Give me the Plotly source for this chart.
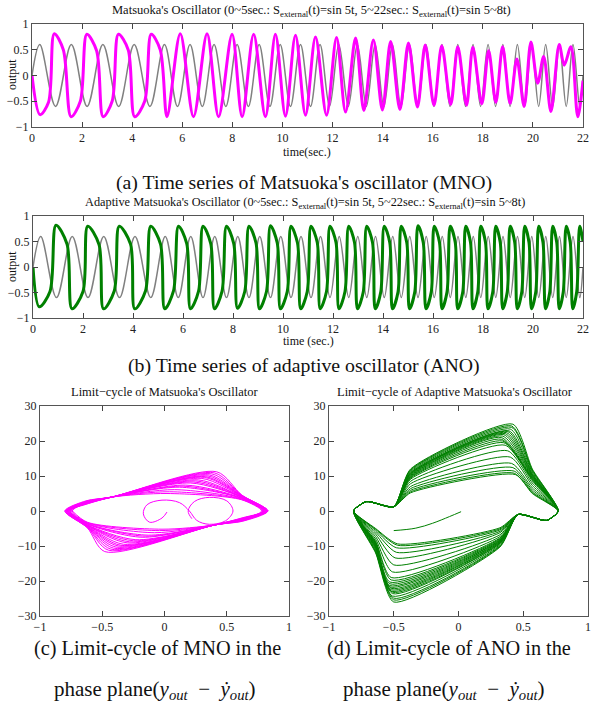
import plotly.graph_objects as go

# ---------------- time series data ----------------
# reference input S_external: extrema times and values
grey_t = [0.00, 0.31, 0.94, 1.57, 2.20, 2.83, 3.46, 4.08, 4.71,
          5.29, 5.81, 6.31, 6.80, 7.27, 7.74, 8.19, 8.64, 9.07, 9.50,
          9.91, 10.32, 10.72, 11.12, 11.50, 11.88, 12.25, 12.63, 12.99, 13.35,
          13.70, 14.05, 14.39, 14.73, 15.07, 15.40, 15.73, 16.05, 16.37, 16.69,
          17.00, 17.31, 17.61, 17.91, 18.21, 18.51, 18.80, 19.09, 19.38, 19.67,
          19.95, 20.23, 20.51, 20.79, 21.06, 21.33, 21.60, 21.87, 22.00]
grey_y = [0.0, 0.6, -0.6, 0.6, -0.6, 0.6, -0.6, 0.6, -0.6,
          0.6, -0.6, 0.6, -0.6, 0.6, -0.6, 0.6, -0.6, 0.6, -0.6,
          0.6, -0.6, 0.6, -0.6, 0.6, -0.6, 0.6, -0.6, 0.6, -0.6,
          0.6, -0.6, 0.6, -0.6, 0.6, -0.6, 0.6, -0.6, 0.6, -0.6,
          0.6, -0.6, 0.6, -0.6, 0.6, -0.6, 0.6, -0.6, 0.6, -0.6,
          0.6, -0.6, 0.6, -0.6, 0.6, -0.6, 0.6, -0.6, 0.0]

# Matsuoka's oscillator output (key points)
mno_t = [0.00, 0.32, 0.66, 0.89, 1.25, 1.56, 1.93, 2.19, 2.58, 2.84,
         3.20, 3.45, 3.84, 4.10, 4.50, 4.76, 5.12, 5.39,
         5.92, 6.45, 6.99, 7.45, 7.99, 8.39, 8.85, 9.32, 9.72, 10.12,
         10.52, 10.92, 11.32, 11.76, 12.16, 12.52, 12.92, 13.25, 13.63, 13.99,
         14.32, 14.69, 15.03, 15.39, 15.70, 16.05, 16.36, 16.72, 17.00, 17.35,
         17.60, 17.96, 18.23, 18.52, 18.79, 19.09, 19.36, 19.65, 19.92, 20.19,
         20.43, 20.72, 21.05, 21.25, 21.52, 21.79, 22.00]
mno_y = [0.00, -0.76, -0.52, 0.81, 0.50, -0.80, -0.50, 0.80, 0.48, -0.80,
         -0.50, 0.80, 0.50, -0.80, -0.50, 0.80, 0.50, -0.80,
         0.81, -0.80, 0.81, -0.80, 0.80, -0.80, 0.80, -0.80, 0.80, -0.79,
         0.78, -0.77, 0.75, -0.77, 0.74, -0.71, 0.73, -0.68, 0.69, -0.67,
         0.66, -0.66, 0.63, -0.61, 0.59, -0.58, 0.58, -0.56, 0.56, -0.58,
         0.55, -0.55, 0.48, -0.52, 0.56, -0.54, 0.32, -0.60, 0.65, -0.15,
         0.37, -0.70, 0.60, 0.20, 0.56, -0.80, -0.10]

# Adaptive Matsuoka's oscillator output (key points)
ano_t = [0.00, 0.25,
         0.68, 0.92, 1.36, 1.56, 2.00, 2.19, 2.64, 2.82, 3.25, 3.45, 3.90, 4.07,
         4.50, 4.71, 5.10, 5.27, 5.62, 5.82, 6.15, 6.30, 6.62, 6.80, 7.11, 7.26,
         7.56, 7.74, 8.03, 8.18, 8.47, 8.64, 8.92, 9.06, 9.34, 9.50, 9.77, 9.90,
         10.17, 10.32, 10.58, 10.71, 10.97, 11.12, 11.37, 11.49, 11.74, 11.88, 12.12, 12.24,
         12.48, 12.63, 12.86, 12.98, 13.21, 13.35, 13.58, 13.69, 13.91, 14.05, 14.27, 14.38,
         14.60, 14.73, 14.95, 15.06, 15.27, 15.40, 15.61, 15.72, 15.93, 16.05, 16.26, 16.36,
         16.56, 16.69, 16.89, 16.99, 17.19, 17.31, 17.50, 17.60, 17.79, 17.91, 18.10, 18.20,
         18.39, 18.51, 18.69, 18.79, 18.97, 19.09, 19.27, 19.37, 19.55, 19.67, 19.84, 19.94,
         20.11, 20.23, 20.40, 20.50, 20.67, 20.79, 20.95, 21.05, 21.21, 21.33, 21.49, 21.59,
         21.75, 21.87, 22.00]
ano_y = [0.00, -0.78,
         -0.48, 0.82, 0.45, -0.82, -0.48, 0.80, 0.44, -0.82, -0.47, 0.80, 0.45, -0.82,
         -0.47, 0.80, 0.45, -0.82, -0.47, 0.80, 0.46, -0.82, -0.48, 0.80, 0.46, -0.82,
         -0.48, 0.80, 0.46, -0.81, -0.48, 0.80, 0.47, -0.82, -0.48, 0.81, 0.47, -0.82,
         -0.48, 0.80, 0.47, -0.82, -0.48, 0.80, 0.48, -0.82, -0.48, 0.80, 0.48, -0.82,
         -0.48, 0.80, 0.48, -0.82, -0.49, 0.80, 0.48, -0.82, -0.49, 0.80, 0.48, -0.82,
         -0.49, 0.80, 0.48, -0.82, -0.49, 0.81, 0.48, -0.82, -0.49, 0.80, 0.48, -0.82,
         -0.49, 0.80, 0.48, -0.82, -0.49, 0.80, 0.48, -0.82, -0.49, 0.80, 0.48, -0.82,
         -0.49, 0.80, 0.48, -0.82, -0.49, 0.80, 0.48, -0.82, -0.49, 0.80, 0.48, -0.82,
         -0.49, 0.80, 0.48, -0.82, -0.49, 0.80, 0.48, -0.82, -0.49, 0.80, 0.48, -0.82,
         -0.48, 0.80, 0.50]

# ---------------- phase-plane data ----------------
# MNO limit cycle: per-loop corner values
mno_left_x = [-0.80, -0.80, -0.80, -0.79, -0.79, -0.79, -0.78, -0.78, -0.78,
              -0.78, -0.77, -0.77, -0.77, -0.76, -0.76, -0.76, -0.75, -0.74]
mno_ul1_y = [2.4, 2.9, 2.3, 2.2, 2.8, 2.7, 2.1, 2.0, 2.5, 2.6, 2.3, 1.9, 2.4, 2.2, 2.1, 2.5, 2.2, 2.3]
mno_top_x = [0.42, 0.40, 0.38, 0.36, 0.35, 0.33, 0.32, 0.30, 0.27,
             0.25, 0.23, 0.21, 0.17, 0.15, 0.12, 0.08, 0.04, 0.02]
mno_top_y = [11.2, 10.9, 10.6, 10.3, 10.0, 9.8, 9.6, 9.3, 8.9, 8.6, 8.3, 8.0, 7.4, 7.1, 6.8, 6.1, 5.5, 5.0]
mno_rside_y = [4.6, 4.5, 4.5, 4.4, 4.3, 4.3, 4.2, 4.1, 4.0, 4.0, 3.9, 3.9, 3.7, 3.6, 3.6, 3.4, 3.3, 3.2]
mno_right_x = [0.83, 0.83, 0.83, 0.82, 0.82, 0.82, 0.81, 0.81, 0.81,
               0.81, 0.80, 0.80, 0.80, 0.80, 0.80, 0.79, 0.79, 0.78]
mno_lr1_y = [-2.4, -2.9, -2.3, -2.2, -2.8, -2.7, -2.1, -2.0, -2.5,
             -2.6, -2.3, -1.9, -2.4, -2.2, -2.1, -2.5, -2.2, -2.3]
mno_bot_x = [-0.48, -0.45, -0.43, -0.41, -0.39, -0.37, -0.35, -0.33, -0.30,
             -0.28, -0.25, -0.23, -0.18, -0.15, -0.13, -0.08, -0.04, -0.02]
mno_bot_y = [-11.6, -11.2, -10.9, -10.6, -10.3, -10.0, -9.8, -9.5, -9.1,
             -8.8, -8.5, -8.2, -7.5, -7.2, -6.9, -6.2, -5.6, -5.2]
mno_lside_y = [-4.8, -4.7, -4.6, -4.5, -4.5, -4.4, -4.3, -4.2, -4.1,
               -4.0, -4.0, -3.9, -3.7, -3.6, -3.6, -3.4, -3.3, -3.2]
mno_ul_x, mno_ul2_y = [-0.63, -0.42], 4.0
mno_lr_x, mno_lr2_y = [0.63, 0.40], -4.0
mno_side_x = [0.62, -0.62]
# MNO initial transient
mno_init_x = [0.02, -0.02, -0.12, -0.17, -0.14, -0.02, 0.12, 0.20, 0.26, 0.36, 0.49, 0.55, 0.50, 0.36, 0.24, 0.19, 0.22]
mno_init_y = [-0.3, -2.0, -3.2, -0.8, 1.8, 3.1, 2.4, 0.0, -2.7, -3.8, -2.8, 0.0, 2.9, 3.9, 2.7, 0.0, -2.2]

# ANO limit cycle: per-loop corner values
ano_tl_y = [5.2, 5.5, 5.9, 6.4, 7.0, 7.8, 8.5, 9.1, 9.4, 9.6, 9.8, 10.0, 10.2, 10.4, 10.6, 10.7,
            10.9, 11.0, 11.3, 11.6, 11.8, 12.0]
ano_tr_x = [0.44, 0.43, 0.43, 0.42, 0.41, 0.40, 0.38, 0.36, 0.35, 0.34, 0.33, 0.33, 0.34, 0.35, 0.36, 0.37,
            0.38, 0.39, 0.40, 0.41, 0.41, 0.42]
ano_tr_y = [10.4, 10.8, 11.4, 12.4, 13.6, 15.4, 17.2, 18.8, 19.5, 20.0, 20.5, 21.0, 21.4, 21.8, 22.1, 22.4,
            22.7, 22.9, 23.4, 23.9, 24.3, 24.8]
ano_rs_y = [5.0, 5.2, 5.5, 6.0, 6.6, 7.3, 8.0, 8.6, 8.9, 9.1, 9.3, 9.5, 9.7, 9.9, 10.1, 10.3,
            10.5, 10.7, 11.1, 11.5, 11.7, 12.0]
ano_br_y = [-4.8, -5.1, -5.4, -5.8, -6.2, -6.8, -7.3, -7.7, -7.9, -8.1, -8.3, -8.4, -8.6, -8.7, -8.9, -9.0,
            -9.2, -9.3, -9.6, -9.9, -10.1, -10.3]
ano_bl_x = [-0.47, -0.47, -0.48, -0.48, -0.49, -0.50, -0.51, -0.52, -0.52, -0.53, -0.53, -0.53, -0.53, -0.52,
            -0.52, -0.52, -0.51, -0.51, -0.51, -0.50, -0.50, -0.50]
ano_bl_y = [-9.4, -9.8, -10.5, -11.8, -13.4, -15.4, -17.4, -19.0, -19.7, -20.3, -20.8, -21.3, -21.7, -22.1,
            -22.5, -22.9, -23.2, -23.6, -24.3, -24.9, -25.4, -26.0]
ano_ls_y = [-5.0, -5.2, -5.5, -6.0, -6.6, -7.3, -8.0, -8.6, -8.9, -9.1, -9.3, -9.5, -9.7, -9.9, -10.1, -10.3,
            -10.5, -10.7, -11.1, -11.5, -11.7, -12.0]
ano_left_x, ano_left_y = [-0.81, -0.71, -0.50], [0.0, 2.7, 1.2]
ano_right_x, ano_right_y = [0.77, 0.68, 0.46], [0.0, -2.7, -1.0]
ano_corner_x = [-0.37, 0.57, 0.32, -0.64]
# ANO initial transient
ano_init_x = [0.02, -0.07, -0.20, -0.33, -0.50]
ano_init_y = [-0.2, -1.6, -3.5, -4.9, -5.6]

# ---------------- assemble loops ----------------
mx, my = [], []
for i in range(len(mno_top_y)):
    mx += [mno_left_x[i], mno_ul_x[0], mno_ul_x[1], mno_top_x[i], mno_side_x[0],
           mno_right_x[i], mno_lr_x[0], mno_lr_x[1], mno_bot_x[i], mno_side_x[1]]
    my += [0.0, mno_ul1_y[i], mno_ul2_y, mno_top_y[i], mno_rside_y[i],
           0.0, mno_lr1_y[i], mno_lr2_y, mno_bot_y[i], mno_lside_y[i]]
mx.append(mno_left_x[-1]); my.append(0.0)

gx, gy = [], []
for i in range(len(ano_tr_y)):
    gx += ano_left_x + [ano_corner_x[0], ano_tr_x[i], ano_corner_x[1]] + ano_right_x + \
          [ano_corner_x[2], ano_bl_x[i], ano_corner_x[3]]
    gy += ano_left_y + [ano_tl_y[i], ano_tr_y[i], ano_rs_y[i]] + ano_right_y + \
          [ano_br_y[i], ano_bl_y[i], ano_ls_y[i]]
gx.append(ano_left_x[0]); gy.append(ano_left_y[0])

FONT = "Liberation Serif, Times New Roman, serif"
GREY = "rgb(128,128,128)"
MAG = "rgb(255,0,255)"
GRN = "rgb(0,128,0)"

fig = go.Figure()

def line(x, y, color, width, xa, ya, sm=1.0):
    fig.add_trace(go.Scatter(x=x, y=y, mode="lines", xaxis=xa, yaxis=ya,
                             line=dict(color=color, width=width, shape="spline", smoothing=sm),
                             showlegend=False, hoverinfo="skip"))

line(grey_t, grey_y, GREY, 1.5, "x", "y")
line(mno_t, mno_y, MAG, 3, "x", "y", 0.9)
line(grey_t, grey_y, GREY, 1.5, "x2", "y2")
line(ano_t, ano_y, GRN, 3, "x2", "y2", 0.9)
line(mx, my, MAG, 1, "x3", "y3", 0.8)
line(mno_init_x, mno_init_y, MAG, 1, "x3", "y3", 1.0)
line(gx, gy, GRN, 1, "x4", "y4", 0.6)
line(ano_init_x, ano_init_y, GRN, 1, "x4", "y4", 1.0)

W, H = 610, 711
def dx(a, b): return [a / W, b / W]
def dy(top, bot): return [1 - bot / H, 1 - top / H]

def axis(domain, rng, vals, texts, anchor):
    return dict(domain=domain, range=rng, tickvals=vals, ticktext=texts, anchor=anchor,
                ticks="inside", ticklen=5, tickcolor="#444", mirror="ticks", automargin=False,
                showline=True, linecolor="#555", linewidth=1, showgrid=False, zeroline=False,
                tickfont=dict(family=FONT, size=12, color="#222"), fixedrange=True)

t_vals = [0, 2, 4, 6, 8, 10, 12, 14, 16, 18, 20, 22]
t_text = [str(v) for v in t_vals]
o_vals = [-1, -0.5, 0, 0.5, 1]
o_text = ["\u22121", "\u22120.5", "0", "0.5", "1"]
p_vals = [-1, -0.5, 0, 0.5, 1]
p_text = ["\u22121", "\u22120.5", "0", "0.5", "1"]
v_vals = [-30, -20, -10, 0, 10, 20, 30]
v_text = ["\u221230", "\u221220", "\u221210", "0", "10", "20", "30"]

fig.update_layout(
    width=W, height=H, margin=dict(l=0, r=0, t=0, b=0, pad=0),
    paper_bgcolor="white", plot_bgcolor="white",
    xaxis=axis(dx(32, 583), [0, 22], t_vals, t_text, "y"),
    yaxis=axis(dy(24, 127), [-1, 1], o_vals, o_text, "x"),
    xaxis2=axis(dx(33, 583), [0, 22], t_vals, t_text, "y2"),
    yaxis2=axis(dy(216, 318), [-1, 1], o_vals, o_text, "x2"),
    xaxis3=axis(dx(40, 289), [-1, 1], p_vals, p_text, "y3"),
    yaxis3=axis(dy(406, 616), [-30, 30], v_vals, v_text, "x3"),
    xaxis4=axis(dx(329, 588), [-1, 1], p_vals, p_text, "y4"),
    yaxis4=axis(dy(406, 616), [-30, 30], v_vals, v_text, "x4"),
)

def txt(s, x, y, size, angle=0):
    fig.add_annotation(text=s, x=x / W, y=1 - y / H, xref="paper", yref="paper",
                       showarrow=False, xanchor="center", yanchor="middle", textangle=angle,
                       font=dict(family=FONT, size=size, color="#111"))

SUB = "<sub>external</sub>"
PP = "phase plane(<i>y</i><sub><i>out</i></sub>\u2002\u2212\u2002<i>\u1e8f</i><sub><i>out</i></sub>)"
txt("Matsuoka's Oscillator (0~5sec.: S" + SUB + "(t)=sin 5t, 5~22sec.: S" + SUB + "(t)=sin 5~8t)", 311, 11, 12.5)
txt("time(sec.)", 307, 152, 12)
txt("output", 12, 75, 12, -90)
txt("(a) Time series of Matsuoka's oscillator (MNO)", 304, 183, 19.8)
txt("Adaptive Matsuoka's Oscillator (0~5sec.: S" + SUB + "(t)=sin 5t, 5~22sec.: S" + SUB + "(t)=sin 5~8t)", 305, 203, 12.3)
txt("time (sec.)", 308, 341, 12)
txt("output", 12, 267, 12, -90)
txt("(b) Time series of adaptive oscillator (ANO)", 304, 365, 19.8)
txt("Limit\u2212cycle of Matsuoka's Oscillator", 165, 392, 12.5)
txt("Limit\u2212cycle of Adaptive Matsuoka's Oscillator", 455, 392, 12.5)
txt("(c) Limit-cycle of MNO in the", 157, 648, 20.3)
txt(PP, 155, 690, 21)
txt("(d) Limit-cycle of ANO in the", 449, 648, 20.3)
txt(PP, 444, 690, 21)

# remove the page's default body margin so the figure sits at the window's corner
fig.write_html("out.html", config={"displayModeBar": False},
               post_script="document.body.style.margin='0px';")
